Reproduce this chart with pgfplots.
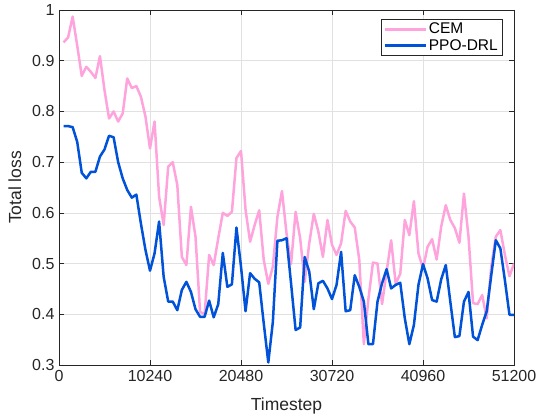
\documentclass[border=0pt]{standalone}
\usepackage{pgfplots}
\pgfplotsset{compat=1.18}
\usepackage{pgfplotstable}
\usepackage{fontspec}
\setmainfont{Liberation Sans}
\definecolor{cempink}{RGB}{255,163,220}
\definecolor{ppoblue}{RGB}{0,82,217}
\definecolor{axgray}{RGB}{38,38,38}
\definecolor{gridgray}{RGB}{225,225,225}

\pgfplotstableread{
k y
1 0.936
2 0.946
3 0.987
4 0.930
5 0.870
6 0.888
7 0.878
8 0.866
9 0.909
10 0.842
11 0.786
12 0.800
13 0.780
14 0.796
15 0.865
16 0.846
17 0.850
18 0.829
19 0.790
20 0.727
21 0.780
22 0.632
23 0.576
24 0.691
25 0.700
26 0.655
27 0.513
28 0.497
29 0.612
30 0.553
31 0.405
32 0.400
33 0.517
34 0.497
35 0.550
36 0.600
37 0.594
38 0.602
39 0.708
40 0.722
41 0.606
42 0.543
43 0.576
44 0.605
45 0.507
46 0.460
47 0.494
48 0.592
49 0.643
50 0.560
51 0.499
52 0.602
53 0.550
54 0.464
55 0.540
56 0.598
57 0.563
58 0.513
59 0.586
60 0.537
61 0.517
62 0.540
63 0.604
64 0.583
65 0.571
66 0.507
67 0.341
68 0.430
69 0.502
70 0.500
71 0.420
72 0.484
73 0.546
74 0.460
75 0.480
76 0.586
77 0.556
78 0.623
79 0.520
80 0.490
81 0.533
82 0.548
83 0.508
84 0.573
85 0.615
86 0.586
87 0.570
88 0.541
89 0.638
90 0.553
91 0.422
92 0.420
93 0.438
94 0.392
95 0.494
96 0.553
97 0.566
98 0.517
99 0.475
100 0.500
}\cemtable

\pgfplotstableread{
k y
1 0.771
2 0.771
3 0.769
4 0.740
5 0.679
6 0.668
7 0.681
8 0.681
9 0.711
10 0.725
11 0.752
12 0.749
13 0.700
14 0.668
15 0.645
16 0.630
17 0.636
18 0.579
19 0.527
20 0.486
21 0.520
22 0.583
23 0.474
24 0.425
25 0.425
26 0.408
27 0.448
28 0.464
29 0.444
30 0.410
31 0.395
32 0.395
33 0.427
34 0.394
35 0.420
36 0.521
37 0.454
38 0.459
39 0.571
40 0.494
41 0.406
42 0.481
43 0.470
44 0.463
45 0.382
46 0.305
47 0.385
48 0.545
49 0.546
50 0.550
51 0.461
52 0.369
53 0.374
54 0.513
55 0.484
56 0.410
57 0.461
58 0.466
59 0.451
60 0.430
61 0.458
62 0.523
63 0.406
64 0.408
65 0.477
66 0.454
67 0.425
68 0.341
69 0.341
70 0.425
71 0.461
72 0.489
73 0.451
74 0.458
75 0.462
76 0.392
77 0.341
78 0.379
79 0.458
80 0.499
81 0.471
82 0.428
83 0.425
84 0.469
85 0.497
86 0.425
87 0.355
88 0.357
89 0.425
90 0.444
91 0.356
92 0.349
93 0.379
94 0.406
95 0.477
96 0.546
97 0.530
98 0.467
99 0.399
100 0.399
}\ppotable

\begin{document}
\begin{tikzpicture}
\begin{axis}[
  scale only axis,
  width=455bp, height=355bp,
  xmin=0, xmax=51200, ymin=0.3, ymax=1,
  scaled x ticks=false, scaled y ticks=false,
  xtick={0,10240,20480,30720,40960,51200},
  xticklabels={0,10240,20480,30720,40960,51200},
  ytick={0.3,0.4,0.5,0.6,0.7,0.8,0.9,1},
  yticklabels={0.3,0.4,0.5,0.6,0.7,0.8,0.9,1},
  tick align=inside,
  major tick length=5bp,
  tick style={axgray, line width=0.6pt},
  axis line style={axgray, line width=0.6pt},
  grid=major,
  major grid style={gridgray, line width=0.6pt},
  ticklabel style={font=\fontsize{16bp}{19bp}\selectfont, text=axgray},
  label style={font=\fontsize{17.5bp}{20bp}\selectfont, text=axgray},
  xlabel={Timestep},
  ylabel={Total loss},
  xlabel style={at={(ticklabel cs:0.5)}, anchor=north, yshift=-9bp},
  ylabel style={at={(ticklabel cs:0.5)}, anchor=south, yshift=4bp},
  xticklabel style={yshift=-2bp},
  yticklabel style={xshift=-1bp},
  legend style={at={(0.976,0.975)}, anchor=north east,
    draw=axgray, line width=0.6pt, fill=white,
    font=\fontsize{15.5bp}{18bp}\selectfont, text=black,
    row sep=0bp, inner xsep=3bp, inner ysep=2bp},
  legend cell align=left,
  legend image code/.code={\draw[#1, line width=2.5bp] (0cm,0cm) -- (1.42cm,0cm);},
]
\addplot[cempink, line width=2.5bp, line join=round] table[x expr=\thisrow{k}*512, y=y] {\cemtable};
\addlegendentry{CEM}
\addplot[ppoblue, line width=2.5bp, line join=round] table[x expr=\thisrow{k}*512, y=y] {\ppotable};
\addlegendentry{PPO-DRL}
\end{axis}
\pgfresetboundingbox
\path ([shift={(-59bp,-52bp)}]current axis.south west) rectangle ([shift={(22bp,10bp)}]current axis.north east);
\end{tikzpicture}
\end{document}
